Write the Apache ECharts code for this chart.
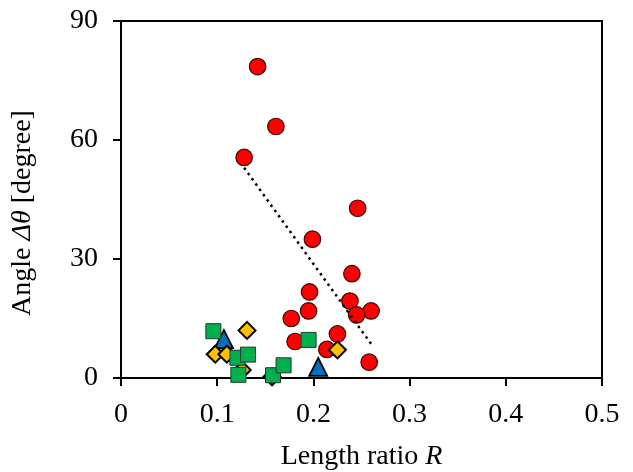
<!DOCTYPE html>
<html>
<head>
<meta charset="utf-8">
<script src="https://cdn.jsdelivr.net/npm/echarts@6/dist/echarts.min.js"></script>
<style>
  html, body { margin: 0; padding: 0; background: #fff; }
  #chart { width: 633px; height: 472px; }
</style>
</head>
<body>
<div id="chart"></div>
<script>
// Length ratio R vs. angle Δθ, four groups of measurements plus a linear trend
var circleR     = [0.142, 0.161, 0.128, 0.246, 0.199, 0.240, 0.196, 0.238, 0.195, 0.260, 0.245, 0.177, 0.225, 0.181, 0.214, 0.258];
var circleTheta = [78.5, 63.4, 55.6, 42.8, 35.0, 26.3, 21.7, 19.4, 16.9, 16.9, 15.9, 15.0, 11.1, 9.2, 7.2, 4.0];

var squareR     = [0.096, 0.121, 0.132, 0.122, 0.158, 0.169, 0.195];
var squareTheta = [11.8, 5.1, 5.9, 0.8, 0.7, 3.2, 9.6];

var diamondR     = [0.131, 0.098, 0.110, 0.225, 0.126, 0.157];
var diamondTheta = [12.0, 6.0, 6.0, 7.1, 2.0, 0.3];

var triangleR     = [0.107, 0.205];
var triangleTheta = [9.8, 2.8];

// dotted linear trend through the red group
var trendR     = [0.128, 0.260];
var trendTheta = [53.0, 8.6];

var xTicks = [0, 0.1, 0.2, 0.3, 0.4, 0.5];
var yTicks = [0, 30, 60, 90];

function pairs(xs, ys) {
  return xs.map(function (x, i) { return [x, ys[i]]; });
}

var FONT = "'Liberation Serif', 'Times New Roman', serif";

var chart = echarts.init(document.getElementById('chart'), null, { renderer: 'canvas' });

chart.setOption({
  animation: false,
  backgroundColor: '#ffffff',
  grid: {
    left: 121, right: 31, top: 21, bottom: 94,
    outerBoundsMode: 'none',
    containLabel: false,
    show: true, borderColor: '#000', borderWidth: 2, backgroundColor: 'transparent'
  },
  xAxis: {
    type: 'value',
    min: xTicks[0], max: xTicks[xTicks.length - 1], interval: 0.1,
    name: 'Length ratio {i|R}',
    nameLocation: 'middle',
    nameGap: 65,
    nameTextStyle: {
      fontFamily: FONT, fontSize: 28, color: '#000',
      rich: { i: { fontFamily: FONT, fontSize: 28, fontStyle: 'italic', color: '#000' } }
    },
    axisLine: { lineStyle: { color: '#000', width: 2 } },
    axisTick: { show: true, inside: false, length: 8, lineStyle: { color: '#000', width: 2 } },
    axisLabel: {
      fontFamily: FONT, fontSize: 28, color: '#000', margin: 23,
      formatter: function (v) { return String(Math.round(v * 10) / 10); }
    },
    splitLine: { show: false }
  },
  yAxis: {
    type: 'value',
    min: yTicks[0], max: yTicks[yTicks.length - 1], interval: 30,
    axisLine: { show: true, lineStyle: { color: '#000', width: 2 } },
    axisTick: { show: true, inside: false, length: 8, lineStyle: { color: '#000', width: 2 } },
    axisLabel: { fontFamily: FONT, fontSize: 28, color: '#000', margin: 23 },
    splitLine: { show: false }
  },
  graphic: [{
    type: 'text',
    x: 23, y: 213,
    rotation: Math.PI / 2,
    style: {
      text: 'Angle {i|Δθ} [degree]',
      fontFamily: FONT, fontSize: 28, fill: '#000',
      align: 'center', verticalAlign: 'middle',
      rich: { i: { fontFamily: FONT, fontSize: 28, fontStyle: 'italic', fill: '#000' } }
    }
  }],
  series: [
    {
      type: 'scatter', name: 'circles', z: 2,
      data: pairs(circleR, circleTheta),
      symbol: 'circle', symbolSize: 16.5,
      itemStyle: { color: '#ff0000', borderColor: '#3a0000', borderWidth: 1.2, opacity: 1 }
    },
    {
      type: 'line', name: 'trend', z: 3,
      data: pairs(trendR, trendTheta),
      symbol: 'none',
      lineStyle: { color: '#000', width: 2.5, type: [2.5, 4] }
    },
    {
      type: 'scatter', name: 'triangles', z: 4,
      data: pairs(triangleR, triangleTheta),
      symbol: 'triangle', symbolSize: [18, 18],
      itemStyle: { color: '#0070c0', borderColor: '#000', borderWidth: 1.8, opacity: 1 }
    },
    {
      type: 'scatter', name: 'diamonds', z: 5,
      data: pairs(diamondR, diamondTheta),
      symbol: 'diamond', symbolSize: [17, 17],
      itemStyle: { color: '#ffc000', borderColor: '#000', borderWidth: 2, opacity: 1 }
    },
    {
      type: 'scatter', name: 'squares', z: 6,
      data: pairs(squareR, squareTheta),
      symbol: 'rect', symbolSize: 15,
      itemStyle: { color: '#00b050', borderColor: '#1f3a28', borderWidth: 1, opacity: 1 }
    }
  ]
});
</script>
</body>
</html>
